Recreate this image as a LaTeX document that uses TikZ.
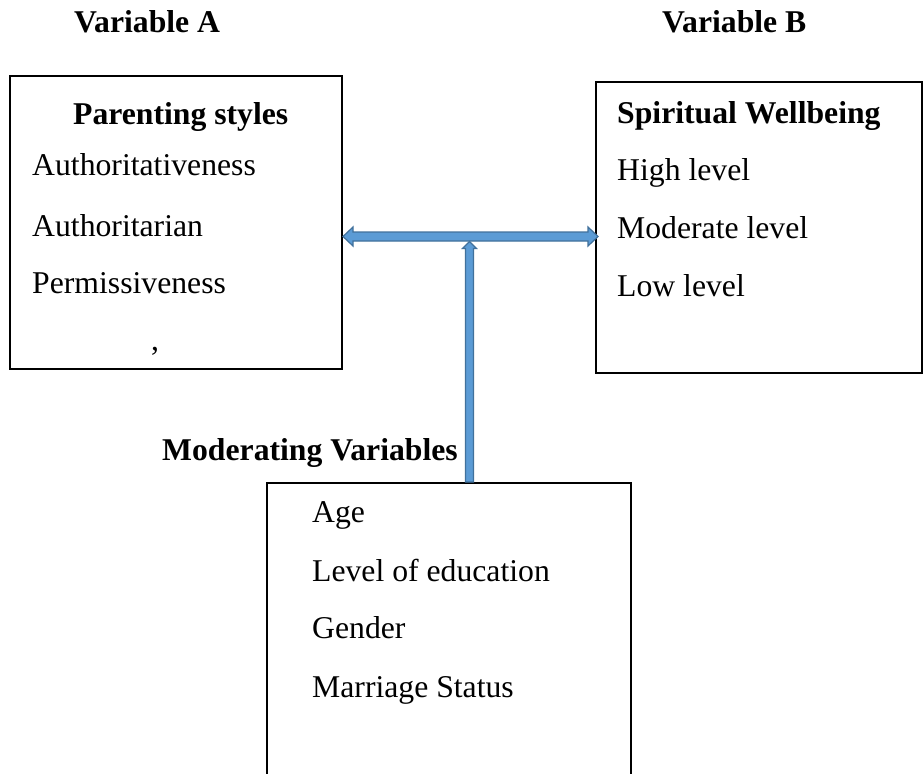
\documentclass[tikz,border=0pt]{standalone}
\usepackage{fontspec}
\setmainfont{Liberation Serif}
\usetikzlibrary{calc}
\definecolor{arrowfill}{HTML}{5B9BD5}
\definecolor{arrowline}{HTML}{41719C}
\tikzset{
  box/.style={draw=black, line width=2pt, rectangle, inner sep=0pt},
  txt/.style={anchor=base west, inner sep=0pt, font=\fontsize{31.7}{38}\selectfont},
  head/.style={txt, font=\fontsize{31.7}{38}\selectfont\bfseries},
  blockarrow/.style={fill=arrowfill, draw=arrowline, line width=1.2pt, line join=miter}
}
\begin{document}
\begin{tikzpicture}[x=1pt, y=-1pt]
\useasboundingbox (0,0) rectangle (924,774);
\clip (0,0) rectangle (924,774);
\fill[white] (0,0) rectangle (924,774);

% headings
\node[head] (ha) at (74,32) {Variable A};
\node[head] (hb) at (662,32) {Variable B};

% boxes
\node[box, minimum width=332pt, minimum height=293pt] (A) at (176,222.5) {};
\node[box, minimum width=326pt, minimum height=291pt] (B) at (759,227.5) {};
\node[box, minimum width=364pt, minimum height=317pt] (C) at (449,641.5) {};

% box A texts
\node[head] (a0) at (73,124) {Parenting styles};
\node[txt] (a1) at (32,175) {Authoritativeness};
\node[txt] (a2) at (32,236) {Authoritarian};
\node[txt] (a3) at (32,293) {Permissiveness};
\node[txt] (a4) at (151,350) {,};

% box B texts
\node[head] (b0) at (617,123) {Spiritual Wellbeing};
\node[txt] (b1) at (617,180) {High level};
\node[txt] (b2) at (617,238) {Moderate level};
\node[txt] (b3) at (617,296) {Low level};

% moderating
\node[head] (m0) at (162,460) {Moderating Variables};
\node[txt] (c1) at (312,522) {Age};
\node[txt] (c2) at (312,581) {Level of education};
\node[txt] (c3) at (312,638) {Gender};
\node[txt] (c4) at (312,697) {Marriage Status};

% horizontal double arrow
\coordinate (hy) at (0,236.5);
\coordinate (hl) at (A.east |- hy);
\coordinate (hr) at ($(B.west |- hy)+(3,0)$);
\draw[blockarrow] (hl) -- ($(hl)+(10,-9.5)$) -- ($(hl)+(10,-4.5)$)
  -- ($(hr)+(-10,-4.5)$) -- ($(hr)+(-10,-9.5)$) -- (hr)
  -- ($(hr)+(-10,9.5)$) -- ($(hr)+(-10,4.5)$)
  -- ($(hl)+(10,4.5)$) -- ($(hl)+(10,9.5)$) -- cycle;

% vertical arrow
\coordinate (vt) at (469.5,241.5);
\coordinate (vb) at (vt |- C.north);
\draw[blockarrow] (vt) -- ($(vt)+(7,7)$) -- ($(vt)+(4,7)$) -- ($(vb)+(4,0)$)
  -- ($(vb)+(-4,0)$) -- ($(vt)+(-4,7)$) -- ($(vt)+(-7,7)$) -- cycle;
\end{tikzpicture}
\end{document}
